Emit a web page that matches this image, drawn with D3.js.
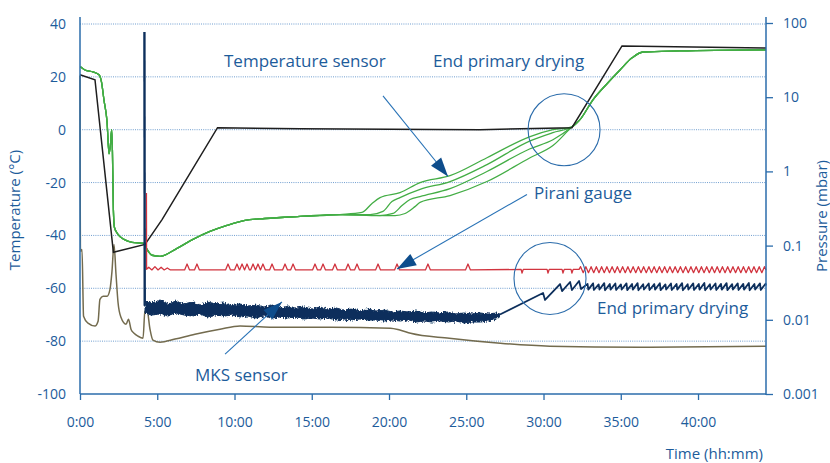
<!DOCTYPE html>
<html>
<head>
<meta charset="utf-8">
<script src="https://cdn.jsdelivr.net/npm/d3@7"></script>
<style>
  html, body { margin: 0; padding: 0; background: #fff; }
  svg { display: block; font-family: "Open Sans", sans-serif; }
</style>
</head>
<body>
<svg id="chart" width="830" height="463"></svg>
<script>
// ---- Freeze-drying run: time in hours, temperatures in °C, pressures in mbar ----

const timeTicks = [0, 5, 10, 15, 20, 25, 30, 35, 40];
const tempTicks = [-100, -80, -60, -40, -20, 0, 20, 40];
const pressureTicks = [0.001, 0.01, 0.1, 1, 10, 100];
const pressureLabels = ["0.001", "0.01", "0.1", "1", "10", "100"];

// Shelf temperature
const shelfTemp = [
  [0, 20.8], [0.97, 18.9], [2.16, -46.4], [4.21, -43.4], [5.31, -34], [8.9, 0.75],
  [14.24, 0.4], [25.89, 0], [31.84, 0.75], [35.08, 31.7], [44.4, 30.9]
];

// Condenser temperature
const condenserTemp = [
  [0, 20.4], [0.03, -46], [0.13, -45.3], [0.23, -70.6], [0.52, -73.2], [0.97, -74.3],
  [1.17, -72.5], [1.29, -64.2], [1.49, -63], [1.75, -63], [1.94, -60.4], [2.07, -53.6],
  [2.2, -43.4], [2.33, -54.7], [2.46, -65.3], [2.65, -71], [2.98, -73.6], [3.14, -71.7],
  [3.3, -75.5], [3.5, -77], [3.75, -78.1], [4.08, -78.9], [4.2, -68.7], [4.34, -68.3],
  [4.53, -75.5], [4.72, -79.6], [5.18, -80.4], [6.15, -79.2], [7.44, -77.4], [9.06, -75.5],
  [10.36, -74.3], [12.3, -74.7], [16.2, -74.7], [20.1, -75.1], [20.7, -75.8], [21.4, -77],
  [23.9, -78.9], [27.2, -80.8], [30.4, -81.9], [36.2, -82.3], [44.4, -81.9]
];

// Product temperature sensors (four probes)
const productCommonStart = [
  [0.03, 23.8], [0.32, 22.6], [0.84, 21.9], [1.23, 20.8], [1.39, 18.1], [1.55, 11.3],
  [1.75, 3.0], [1.88, -9.1], [1.97, -5.7], [2.05, 0], [2.1, -8.3], [2.16, -30.2],
  [2.23, -37], [2.46, -39.6], [2.85, -41.5], [3.37, -42.6], [4.14, -43], [4.34, -45.3],
  [4.66, -47.5], [5.18, -47.9], [6.28, -44.9], [7.31, -41.5], [8.41, -38.5], [9.51, -36.2],
  [10.68, -34.3], [11.97, -33.6], [14.24, -32.8], [16.83, -32.1]
];
const productA = [
  [18.25, -31.3], [18.9, -27.9], [19.42, -25.7], [20.71, -23.8], [22.01, -20], [23.95, -17.4],
  [26.34, -10.6], [29.13, -2.6], [30.61, 0]
];
const productB = [
  [18.77, -32.1], [19.61, -30.9], [20.19, -27.2], [20.71, -25.7], [22.01, -22.6], [23.95, -19.6],
  [26.34, -13.2], [29.13, -4.2], [30.61, -1.1]
];
const productC = [
  [19.42, -32.5], [20.26, -31.7], [20.84, -28.7], [21.36, -26.4], [22.01, -25.3], [23.95, -22.3],
  [26.34, -15.8], [29.13, -7.2], [30.61, -3.8]
];
const productD = [
  [20.39, -32.5], [21.04, -31.7], [21.68, -29.1], [22.01, -27.5], [23.95, -24.9],
  [26.34, -19.6], [29.13, -10.6], [30.61, -6]
];
const productCommonEnd = [
  [31.84, 1.1], [32.36, 3.8], [33.2, 11.3], [34.11, 17.4], [34.95, 22.6], [35.73, 27.2],
  [36.44, 29.4], [38.83, 29.8], [44.4, 30.2]
];

// Pirani gauge pressure
const piraniMain = [
  [4.3, 0.51], [4.31, 0.048], [4.45, 0.051], [4.65, 0.047], [4.85, 0.052], [5.05, 0.047],
  [5.25, 0.051], [5.45, 0.047], [5.65, 0.05], [5.85, 0.047],
  [6.77, 0.047], [6.93, 0.0565], [7.09, 0.047], [7.41, 0.047], [7.57, 0.0565], [7.73, 0.047],
  [9.42, 0.047], [9.58, 0.0565], [9.74, 0.047], [10.0, 0.047], [10.16, 0.0565], [10.32, 0.047],
  [10.33, 0.047], [10.49, 0.0565], [10.65, 0.047], [10.81, 0.0565], [10.97, 0.047],
  [11.04, 0.047], [11.2, 0.0565], [11.36, 0.047], [11.52, 0.0565], [11.68, 0.047],
  [11.84, 0.0565], [12.0, 0.047], [12.27, 0.047], [12.43, 0.0565], [12.59, 0.047],
  [13.11, 0.047], [13.27, 0.0565], [13.43, 0.047], [13.63, 0.047], [13.79, 0.0565], [13.95, 0.047],
  [15.05, 0.047], [15.21, 0.0565], [15.37, 0.047], [15.57, 0.047], [15.73, 0.0565], [15.89, 0.047],
  [16.34, 0.047], [16.5, 0.0565], [16.66, 0.047], [17.19, 0.047], [17.35, 0.0565], [17.51, 0.047],
  [17.77, 0.047], [17.93, 0.0565], [18.09, 0.047], [19.13, 0.047], [19.29, 0.0565], [19.45, 0.047],
  [20.36, 0.047], [20.52, 0.0565], [20.68, 0.047], [22.36, 0.047], [22.52, 0.0565], [22.68, 0.047],
  [24.95, 0.047], [25.11, 0.0565], [25.27, 0.047],
  [28.55, 0.0478], [28.61, 0.0427], [28.69, 0.0478], [30.23, 0.0478], [30.29, 0.0427],
  [30.37, 0.0478], [31.2, 0.0478], [31.26, 0.0427], [31.34, 0.0478], [31.78, 0.0478],
  [31.84, 0.0427], [31.92, 0.0478], [32.3, 0.0478]
];
const piraniTail = [
  [32.40, .052], [32.57, .0432], [32.74, .052], [32.91, .0432], [33.08, .052], [33.25, .0432],
  [33.42, .052], [33.59, .0432], [33.76, .052], [33.93, .0432], [34.10, .052], [34.27, .0432],
  [34.44, .052], [34.61, .0432], [34.78, .052], [34.95, .0432], [35.12, .052], [35.29, .0432],
  [35.46, .052], [35.63, .0432], [35.80, .052], [35.97, .0432], [36.14, .052], [36.31, .0432],
  [36.48, .052], [36.65, .0432], [36.82, .052], [36.99, .0432], [37.16, .052], [37.33, .0432],
  [37.50, .052], [37.67, .0432], [37.84, .052], [38.01, .0432], [38.18, .052], [38.35, .0432],
  [38.52, .052], [38.69, .0432], [38.86, .052], [39.03, .0432], [39.20, .052], [39.37, .0432],
  [39.54, .052], [39.71, .0432], [39.88, .052], [40.05, .0432], [40.22, .052], [40.39, .0432],
  [40.56, .052], [40.73, .0432], [40.90, .052], [41.07, .0432], [41.24, .052], [41.41, .0432],
  [41.58, .052], [41.75, .0432], [41.92, .052], [42.09, .0432], [42.26, .052], [42.43, .0432],
  [42.60, .052], [42.77, .0432], [42.94, .052], [43.11, .0432], [43.28, .052], [43.45, .0432],
  [43.62, .052], [43.79, .0432], [43.96, .052], [44.13, .0432], [44.30, .052], [44.40, .047]
];

// MKS capacitance gauge: venting spike, noisy band [time, upper, lower], then controlled phase
const mksSpike = [[4.17, 75.7], [4.19, 0.0155]];
const mksBand = [
  [4.21, .01792, .01235], [4.66, .01684, .01161], [5.18, .01849, .01197], [5.70, .01633, .01125],
  [6.21, .01792, .01235], [6.73, .01633, .01161], [7.25, .01738, .01125], [7.77, .01583, .01197],
  [8.28, .01738, .01091], [8.80, .01633, .01161], [9.32, .01684, .01125], [9.84, .01535, .01161],
  [10.36, .01633, .01091], [10.87, .01535, .01125], [11.39, .01583, .01057], [11.91, .01488, .01125],
  [12.43, .01583, .01057], [12.94, .01442, .01091], [13.46, .01535, .01057], [13.98, .01442, .01091],
  [14.50, .01488, .01025], [15.02, .01398, .01057], [15.53, .01488, .01025], [16.05, .01398, .01057],
  [16.57, .01442, .00994], [17.09, .01355, .01025], [17.61, .01398, .00994], [18.12, .01314, .01025],
  [18.64, .01398, .00994], [19.16, .01314, .00994], [19.68, .01355, .00963], [20.19, .01274, .00994],
  [20.71, .01314, .00963], [21.23, .01274, .00994], [21.75, .01314, .00934], [22.27, .01235, .00963],
  [22.78, .01274, .00934], [23.30, .01235, .00963], [23.82, .01274, .00934], [24.34, .01197, .00963],
  [24.85, .01235, .00906], [25.37, .01197, .00934], [25.89, .01235, .00934], [26.41, .01197, .00963],
  [26.93, .01235, .01025], [27.18, .01197, .01091]
];
const mksLate = [
  [27.18, 0.0118], [29.97, 0.023], [30.1, 0.0185], [31.07, 0.0303], [31.2, 0.0244],
  [31.72, 0.0323], [31.84, 0.0252], [32.3, 0.0333], [32.43, 0.026],
  [32.85, .0305], [32.90, .0255], [33.21, .0310], [33.26, .0252], [33.57, .0300], [33.62, .0256],
  [33.93, .0312], [33.98, .0250], [34.29, .0303], [34.34, .0255], [34.65, .0308], [34.70, .0252],
  [35.01, .0300], [35.06, .0256], [35.37, .0310], [35.42, .0251], [35.73, .0304], [35.78, .0255],
  [36.09, .0312], [36.14, .0250], [36.45, .0302], [36.50, .0256], [36.81, .0309], [36.86, .0252],
  [37.17, .0303], [37.22, .0255], [37.53, .0311], [37.58, .0251], [37.89, .0300], [37.94, .0256],
  [38.25, .0308], [38.30, .0252], [38.61, .0304], [38.66, .0255], [38.97, .0312], [39.02, .0250],
  [39.33, .0302], [39.38, .0256], [39.69, .0310], [39.74, .0252], [40.05, .0304], [40.10, .0255],
  [40.41, .0313], [40.46, .0250], [40.77, .0301], [40.82, .0256], [41.13, .0309], [41.18, .0252],
  [41.49, .0305], [41.54, .0255], [41.85, .0312], [41.90, .0251], [42.21, .0302], [42.26, .0256],
  [42.57, .0310], [42.62, .0252], [42.93, .0305], [42.98, .0255], [43.29, .0313], [43.34, .0250],
  [43.65, .0303], [43.70, .0256], [44.01, .0310], [44.06, .0252], [44.37, .0306], [44.40, .0290]
];

// ---- Drawing ----
const svg = d3.select("#chart");
const plotLeft = 80, plotRight = 766, plotTop = 24, plotBottom = 394;

const x = d3.scaleLinear().domain([0, 44.4]).range([plotLeft, plotRight]);
const yT = d3.scaleLinear().domain([-100, 40]).range([plotBottom, plotTop]);
const yP = d3.scaleLog().domain([0.001, 100]).range([plotBottom, 23]);

const textBlue = "#1d5c9b";
const axisBlue = "#2b6cab";

// gridlines at the temperature ticks
svg.append("g").selectAll("line")
  .data(tempTicks.filter(t => t > -100))
  .join("line")
  .attr("x1", plotLeft).attr("x2", plotRight)
  .attr("y1", d => yT(d)).attr("y2", d => yT(d))
  .attr("stroke", "#6f9dcf").attr("stroke-width", 1)
  .attr("stroke-dasharray", "1,1.2");

// series
const plot = svg.append("g");
const lineT = d3.line().x(d => x(d[0])).y(d => yT(d[1]));
const smoothT = d3.line().x(d => x(d[0])).y(d => yT(d[1])).curve(d3.curveMonotoneX);
const lineP = d3.line().x(d => x(d[0])).y(d => yP(d[1]));

plot.append("path").datum(condenserTemp)
  .attr("d", smoothT).attr("fill", "none")
  .attr("stroke", "#736b4e").attr("stroke-width", 1.5);

[productD, productC, productB, productA].forEach(p => {
  plot.append("path").datum(productCommonStart.concat(p, productCommonEnd))
    .attr("d", smoothT).attr("fill", "none")
    .attr("stroke", "#43ad45").attr("stroke-width", 1.3);
});

plot.append("path").datum(shelfTemp)
  .attr("d", lineT).attr("fill", "none")
  .attr("stroke", "#1e1e1e").attr("stroke-width", 1.5);

plot.append("path").datum(piraniMain.concat(piraniTail))
  .attr("d", lineP).attr("fill", "none")
  .attr("stroke", "#d1343f").attr("stroke-width", 1.3)
  .attr("stroke-linejoin", "round");

// noise texture for the MKS signal band
const defs = svg.append("defs");
const f = defs.append("filter").attr("id", "jitter")
  .attr("x", "-5%").attr("y", "-60%").attr("width", "110%").attr("height", "220%");
f.append("feTurbulence").attr("type", "fractalNoise").attr("baseFrequency", "0.9 0.35")
  .attr("numOctaves", 2).attr("seed", 3).attr("result", "n");
f.append("feDisplacementMap").attr("in", "SourceGraphic").attr("in2", "n")
  .attr("scale", 5).attr("xChannelSelector", "R").attr("yChannelSelector", "G");

const mksColor = "#0d2f5c";
plot.append("path").datum(mksBand)
  .attr("d", d3.area().x(d => x(d[0])).y0(d => yP(d[2])).y1(d => yP(d[1])))
  .attr("fill", mksColor).attr("stroke", mksColor).attr("stroke-width", 1)
  .attr("filter", "url(#jitter)");

plot.append("path").datum(mksLate)
  .attr("d", lineP).attr("fill", "none")
  .attr("stroke", mksColor).attr("stroke-width", 1.8).attr("stroke-linejoin", "round");

plot.append("path").datum(mksSpike)
  .attr("d", lineP).attr("fill", "none")
  .attr("stroke", mksColor).attr("stroke-width", 2.4);

// axes
const axisG = svg.append("g");
axisG.append("line").attr("x1", plotLeft).attr("x2", plotLeft).attr("y1", 17).attr("y2", plotBottom)
  .attr("stroke", axisBlue).attr("stroke-width", 1.5);
axisG.append("line").attr("x1", plotRight).attr("x2", plotRight).attr("y1", 17).attr("y2", plotBottom + 1)
  .attr("stroke", axisBlue).attr("stroke-width", 1.5);
axisG.append("line").attr("x1", plotLeft).attr("x2", plotRight).attr("y1", plotBottom).attr("y2", plotBottom)
  .attr("stroke", axisBlue).attr("stroke-width", 1.5);

const styleAxis = g => {
  g.select(".domain").remove();
  g.selectAll(".tick line").attr("stroke", axisBlue).attr("stroke-width", 1.3);
  g.selectAll(".tick text").attr("fill", textBlue)
    .style("font-family", '"Open Sans", sans-serif').style("font-size", "14px");
};

svg.append("g").attr("transform", `translate(0,${plotBottom})`)
  .call(d3.axisBottom(x).tickValues(timeTicks).tickFormat(d => d + ":00")
    .tickSize(6).tickPadding(17))
  .call(styleAxis);

svg.append("g").attr("transform", `translate(${plotLeft},0)`)
  .call(d3.axisLeft(yT).tickValues(tempTicks).tickFormat(d => String(d))
    .tickSize(0).tickPadding(14))
  .call(styleAxis);

svg.append("g").attr("transform", `translate(${plotRight},0)`)
  .call(d3.axisRight(yP).tickValues(pressureTicks)
    .tickFormat((d, i) => pressureLabels[i]).tickSize(7).tickPadding(10))
  .call(styleAxis);

// axis titles
svg.append("text").attr("transform", "translate(20,210) rotate(-90)")
  .attr("text-anchor", "middle").attr("fill", textBlue).style("font-size", "15px")
  .text("Temperature (°C)");
svg.append("text").attr("transform", "translate(827,216) rotate(-90)")
  .attr("text-anchor", "middle").attr("fill", textBlue).style("font-size", "15px")
  .text("Pressure (mbar)");
svg.append("text").attr("x", 763).attr("y", 459).attr("text-anchor", "end")
  .attr("fill", textBlue).style("font-size", "15px").text("Time (hh:mm)");

// annotations
const ann = svg.append("g");
const lineBlue = "#2872b6", headBlue = "#0e4d8c";
function arrow(x1, y1, x2, y2) {
  ann.append("line").attr("x1", x1).attr("y1", y1).attr("x2", x2).attr("y2", y2)
    .attr("stroke", lineBlue).attr("stroke-width", 1.1);
  const dx = x2 - x1, dy = y2 - y1, len = Math.hypot(dx, dy);
  const ux = dx / len, uy = dy / len, L = 19, w = 6.5;
  const bx = x2 - ux * L, by = y2 - uy * L;
  ann.append("polygon")
    .attr("points", [[x2, y2], [bx - uy * w, by + ux * w], [bx + uy * w, by - ux * w]].map(p => p.join(",")).join(" "))
    .attr("fill", headBlue);
}
arrow(x(19.61), yT(12.8), x(23.82), yT(-17.7));
arrow(x(28.93), yT(-24.5), x(20.52), yP(0.0484));
arrow(x(9.39), yT(-84.9), x(13.07), yP(0.0174));

ann.append("circle").attr("cx", x(31.33)).attr("cy", yT(0)).attr("r", 36)
  .attr("fill", "none").attr("stroke", axisBlue).attr("stroke-width", 1.1);
ann.append("circle").attr("cx", x(30.42)).attr("cy", yP(0.0361)).attr("r", 36)
  .attr("fill", "none").attr("stroke", axisBlue).attr("stroke-width", 1.1);

const labels = [
  { text: "Temperature sensor", x: 224, y: 67 },
  { text: "End primary drying", x: 433, y: 67 },
  { text: "Pirani gauge", x: 534, y: 199 },
  { text: "End primary drying", x: 597, y: 314 },
  { text: "MKS sensor", x: 195, y: 381 }
];
ann.selectAll("text.lbl").data(labels).join("text")
  .attr("class", "lbl").attr("x", d => d.x).attr("y", d => d.y)
  .attr("fill", textBlue).style("font-size", "17px").text(d => d.text);
</script>
</body>
</html>
